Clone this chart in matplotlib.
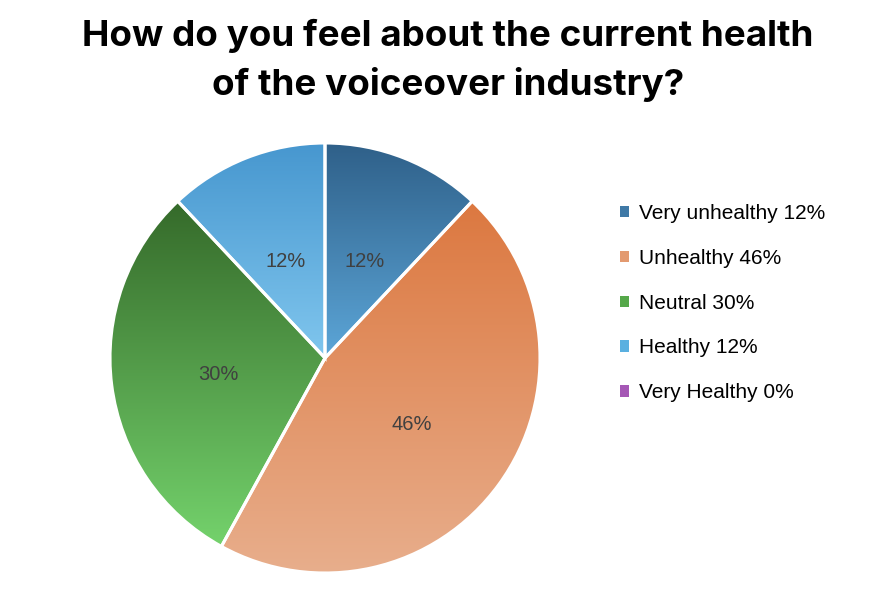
import matplotlib
matplotlib.use("Agg")
import matplotlib.pyplot as plt
import numpy as np
from matplotlib.colors import LinearSegmentedColormap
from matplotlib.patches import Patch

title = "How do you feel about the current health\nof the voiceover industry?"
categories = ["Very unhealthy", "Unhealthy", "Neutral", "Healthy", "Very Healthy"]
values = [12, 46, 30, 12, 0]
top_colors = ["#2f6089", "#dc7840", "#356a2a", "#4797cf", "#9c4aac"]
bottom_colors = ["#5ca6d8", "#e8ae8c", "#74d26c", "#80c6ee", "#b070c0"]
legend_colors = ["#3f79a6", "#e39a70", "#55a84a", "#5ab0e0", "#a557b5"]

fig = plt.figure(figsize=(8.88, 6.04), dpi=100)
fig.patch.set_facecolor("white")

W, H = 888, 604
cx, cy, r = 325, 358, 215
ax = fig.add_axes([(cx - r) / W, (H - cy - r) / H, 2 * r / W, 2 * r / H])

def fmt(p):
    return "" if p < 0.5 else f"{p:.0f}%"

wedges, texts, autotexts = ax.pie(
    values, startangle=90, counterclock=False, autopct=fmt,
    pctdistance=0.5, radius=1.0,
    colors=bottom_colors,
    wedgeprops=dict(edgecolor="white", linewidth=2.2),
    textprops=dict(color="#404040", fontsize=14.5, family="Liberation Sans"),
)

for w, tc, bc, v in zip(wedges, top_colors, bottom_colors, values):
    if v == 0:
        w.set_visible(False)
        continue
    ext = w.get_path().get_extents()
    cmap = LinearSegmentedColormap.from_list("g", [bc, tc])
    grad = np.linspace(0, 1, 256).reshape(-1, 1)
    im = ax.imshow(grad, cmap=cmap, origin="lower", aspect="auto",
                   extent=[ext.x0, ext.x1, ext.y0, ext.y1], zorder=w.get_zorder() - 0.1,
                   interpolation="bilinear")
    im.set_clip_path(w)
    w.set_facecolor("none")

ax.set_xlim(-1, 1)
ax.set_ylim(-1, 1)
ax.axis("off")

for t in autotexts:
    t.set_zorder(5)
    x, y = t.get_position()
    t.set_position((x, y - 0.015))

fig.text(448 / W, 1 - 60 / H, title, ha="center", va="center", fontsize=26.5,
         fontweight="bold", family="Inter", linespacing=1.5, color="black")

handles = [Patch(facecolor=c, edgecolor="none") for c in legend_colors]
labels = [f"{c} {v}%" for c, v in zip(categories, values)]
leg = fig.legend(handles, labels, loc="upper left",
                 bbox_to_anchor=(620 / W, 1 - 204 / H), frameon=False,
                 prop=dict(family="Liberation Sans", size=15),
                 handlelength=0.45, handleheight=0.45, handletextpad=0.45,
                 labelspacing=1.24, borderaxespad=0, borderpad=0)

fig.savefig("out.png", dpi=100, facecolor="white")
